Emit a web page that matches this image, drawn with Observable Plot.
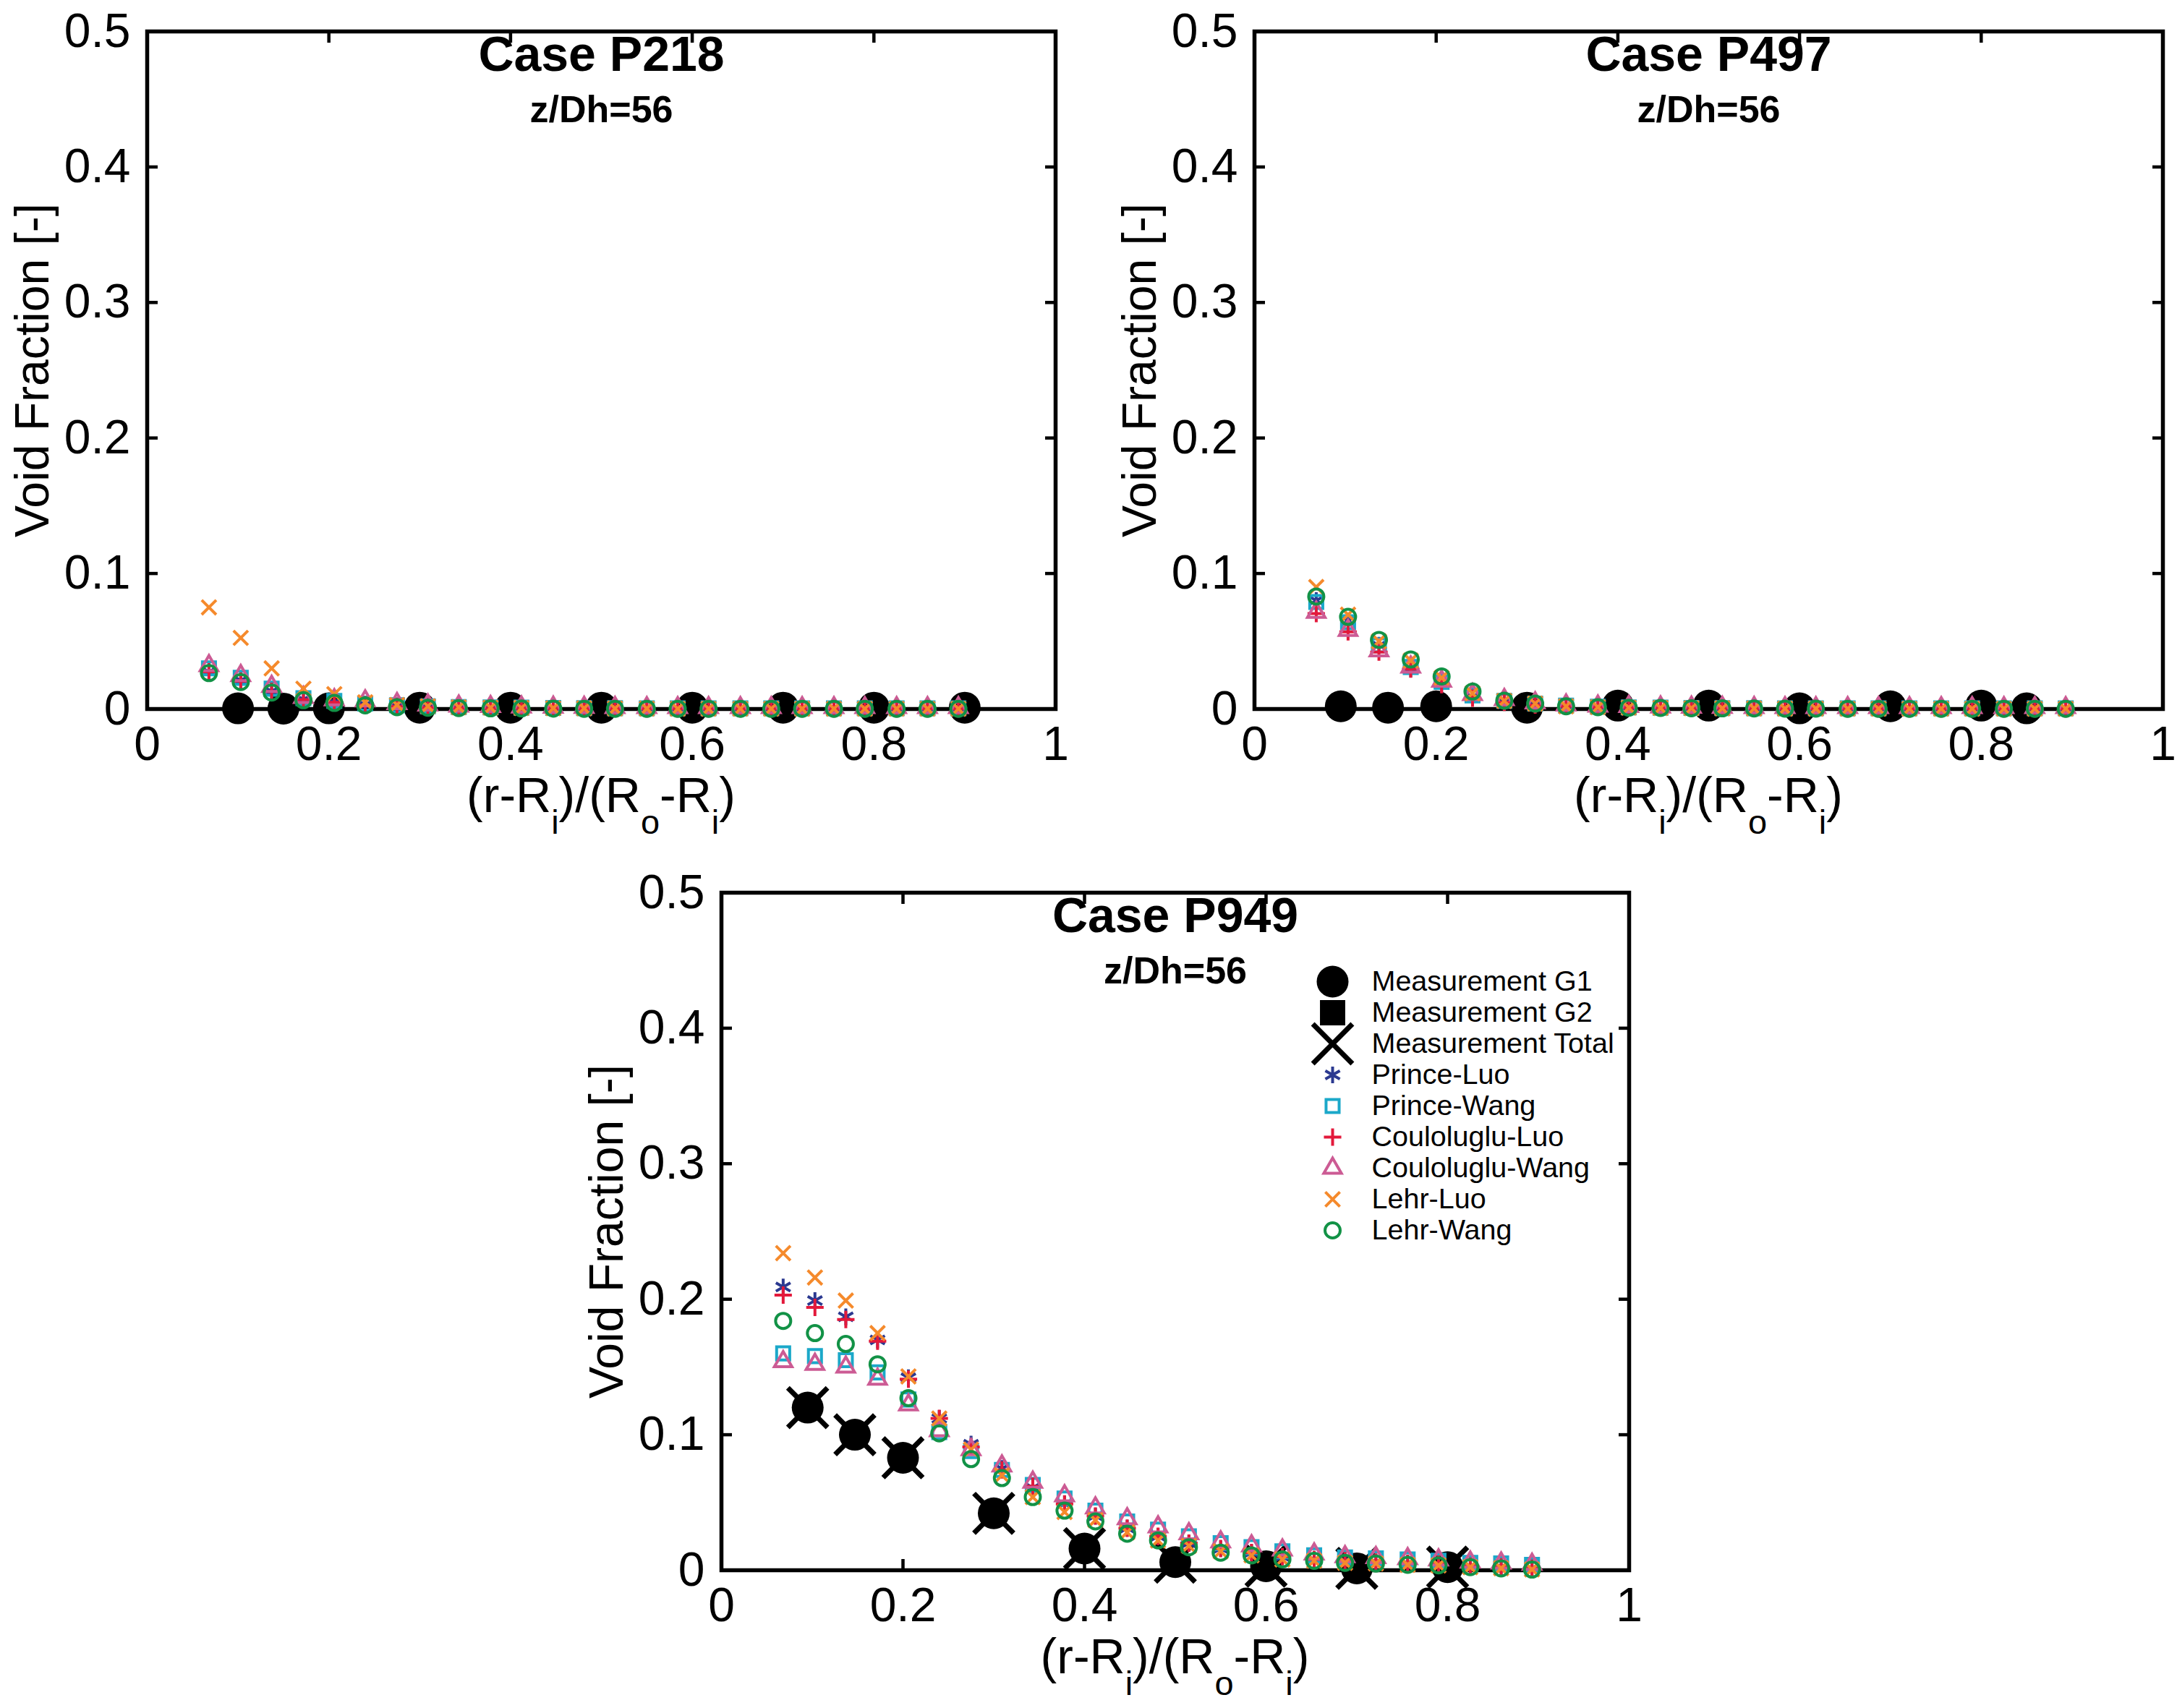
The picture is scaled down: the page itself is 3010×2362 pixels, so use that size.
<!DOCTYPE html>
<html><head><meta charset="utf-8">
<script src="https://cdn.jsdelivr.net/npm/d3@7"></script>
<script src="https://cdn.jsdelivr.net/npm/@observablehq/plot@0.6"></script>
<style>
body{margin:0;background:#fff;}
#fig{position:relative;width:3010px;height:2362px;background:#fff;overflow:hidden;}
#fig > svg{position:absolute;}
</style></head><body><div id="fig"></div>
<script>
// ---------- data ----------
const xTicks = [0, 0.2, 0.4, 0.6, 0.8, 1];
const yTicks = [0, 0.1, 0.2, 0.3, 0.4, 0.5];
const xModel = [0.068,0.103,0.137,0.172,0.206,0.240,0.275,0.309,0.343,0.378,0.412,0.447,0.481,0.515,0.550,0.584,0.618,0.653,0.687,0.721,0.756,0.790,0.825,0.859,0.893];

// Case P218
const P218_measX = [0.1,0.15,0.2,0.3,0.4,0.5,0.6,0.7,0.8,0.9];
const P218_G1 = [0.0005,0.0003,0.0005,0.001,0.001,0.001,0.001,0.001,0.001,0.001];
const P218_PL = [0.0275,0.021,0.013,0.007,0.005,0.003,0.002,0.0012,0.0008,0.0006,0.0005,0.0004,0.0003,0.0003,0.0002,0.0002,0.0002,0.0002,0.0002,0.0002,0.0002,0.0002,0.0002,0.0002,0.0002];
const P218_PW = [0.030,0.023,0.015,0.008,0.006,0.004,0.0028,0.002,0.0015,0.0012,0.001,0.0008,0.0007,0.0006,0.0005,0.0005,0.0005,0.0005,0.0005,0.0005,0.0005,0.0005,0.0005,0.0005,0.0005];
const P218_CL = [0.0275,0.0205,0.013,0.007,0.005,0.003,0.002,0.0012,0.0008,0.0006,0.0005,0.0004,0.0003,0.0003,0.0002,0.0002,0.0002,0.0002,0.0002,0.0002,0.0002,0.0002,0.0002,0.0002,0.0002];
const P218_CW = [0.032,0.0247,0.0167,0.0086,0.0068,0.006,0.004,0.003,0.0022,0.0018,0.0015,0.0013,0.0012,0.0011,0.001,0.001,0.001,0.001,0.001,0.001,0.001,0.001,0.001,0.001,0.001];
const P218_LL = [0.075,0.0525,0.030,0.015,0.011,0.005,0.003,0.002,0.0013,0.001,0.0008,0.0006,0.0005,0.0004,0.0003,0.0002,0.0002,0.0002,0.0002,0.0002,0.0002,0.0002,0.0002,0.0002,0.0002];
const P218_LW = [0.0265,0.0199,0.0122,0.0065,0.0045,0.0027,0.0014,0.001,0.0007,0.0005,0.0004,0.0003,0.0002,0.0002,0.0002,0.0002,0.0002,0.0002,0.0002,0.0002,0.0002,0.0002,0.0002,0.0002,0.0002];

// Case P497
const P497_measX = [0.095,0.147,0.2,0.3,0.4,0.5,0.6,0.7,0.8,0.85];
const P497_G1 = [0.002,0.001,0.002,0.001,0.0025,0.0025,0.0005,0.002,0.0025,0.0005];
const P497_PL = [0.080,0.065,0.047,0.0295,0.018,0.009,0.0055,0.0035,0.002,0.0014,0.001,0.0008,0.0006,0.0005,0.0004,0.0003,0.0003,0.0002,0.0002,0.0002,0.0002,0.0002,0.0002,0.0002,0.0002];
const P497_PW = [0.079,0.064,0.047,0.031,0.020,0.010,0.006,0.004,0.0025,0.0017,0.0012,0.001,0.0008,0.0007,0.0006,0.0005,0.0005,0.0005,0.0005,0.0005,0.0005,0.0005,0.0005,0.0005,0.0005];
const P497_CL = [0.0705,0.057,0.042,0.0295,0.018,0.008,0.005,0.003,0.002,0.0013,0.001,0.0008,0.0006,0.0005,0.0004,0.0003,0.0003,0.0002,0.0002,0.0002,0.0002,0.0002,0.0002,0.0002,0.0002];
const P497_CW = [0.0714,0.058,0.043,0.031,0.0205,0.0107,0.007,0.0045,0.003,0.0022,0.0018,0.0015,0.0013,0.0012,0.0011,0.001,0.001,0.001,0.001,0.001,0.001,0.001,0.001,0.001,0.001];
const P497_LL = [0.090,0.0696,0.050,0.0357,0.023,0.0116,0.006,0.004,0.002,0.0014,0.001,0.0008,0.0006,0.0005,0.0004,0.0003,0.0003,0.0002,0.0002,0.0002,0.0002,0.0002,0.0002,0.0002,0.0002];
const P497_LW = [0.083,0.068,0.051,0.0366,0.024,0.0129,0.0062,0.004,0.002,0.0014,0.001,0.0008,0.0006,0.0005,0.0004,0.0003,0.0003,0.0002,0.0002,0.0002,0.0002,0.0002,0.0002,0.0002,0.0002];

// Case P949
const P949_measX = [0.095,0.147,0.2,0.3,0.4,0.5,0.6,0.7,0.8];
const P949_G1 = [0.120,0.100,0.083,0.042,0.016,0.006,0.003,0.0014,0.0023];
const P949_Total = [0.120,0.100,0.083,0.042,0.016,0.006,0.003,0.0014,0.0023];
const P949_PL = [0.209,0.199,0.187,0.170,0.142,0.112,0.093,0.075,0.061,0.049,0.040,0.031,0.025,0.020,0.016,0.013,0.010,0.008,0.007,0.006,0.005,0.0045,0.003,0.0025,0.0015];
const P949_PW = [0.160,0.158,0.155,0.146,0.126,0.102,0.088,0.074,0.063,0.053,0.044,0.036,0.030,0.025,0.020,0.017,0.014,0.011,0.0095,0.0088,0.008,0.007,0.0055,0.005,0.004];
const P949_CL = [0.203,0.194,0.185,0.169,0.141,0.112,0.091,0.074,0.062,0.049,0.040,0.031,0.025,0.020,0.016,0.013,0.010,0.008,0.007,0.006,0.005,0.0045,0.003,0.0025,0.0015];
const P949_CW = [0.154,0.152,0.150,0.141,0.122,0.103,0.089,0.077,0.065,0.055,0.046,0.038,0.032,0.027,0.021,0.018,0.015,0.012,0.010,0.0094,0.0085,0.0076,0.006,0.0053,0.0044];
const P949_LL = [0.234,0.216,0.199,0.175,0.143,0.112,0.089,0.070,0.054,0.043,0.037,0.028,0.022,0.018,0.014,0.011,0.008,0.007,0.0055,0.005,0.004,0.0036,0.0023,0.0015,0.0006];
const P949_LW = [0.184,0.175,0.167,0.152,0.127,0.101,0.082,0.068,0.054,0.044,0.036,0.027,0.022,0.017,0.013,0.011,0.008,0.007,0.0055,0.005,0.004,0.0036,0.0023,0.0014,0.0005];

const legendNames = ["Measurement G1","Measurement G2","Measurement Total","Prince-Luo","Prince-Wang","Couloluglu-Luo","Couloluglu-Wang","Lehr-Luo","Lehr-Wang"];

// ---------- styles ----------
const FONT = "'Liberation Sans', Arial, Helvetica, sans-serif";
const modelStyles = [
  {name:"Prince-Luo",      symbol:"asterisk", r:11,   color:"#2b3990"},
  {name:"Prince-Wang",     symbol:"square",   r:10.2, color:"#1ba8c9"},
  {name:"Couloluglu-Luo",  symbol:"plus",     r:7.8,  color:"#e3193b"},
  {name:"Couloluglu-Wang", symbol:"triangle", r:9,    color:"#cc5b94"},
  {name:"Lehr-Luo",        symbol:"times",    r:9.2,  color:"#f58a2c"},
  {name:"Lehr-Wang",       symbol:"circle",   r:10.5, color:"#129246"}
];
const measStyles = [
  {name:"Measurement G1", symbol:"circle", r:22, fill:"black", stroke:"none", sw:0},
  {name:"Measurement G2", symbol:"square", r:19.7, fill:"black", stroke:"none", sw:0},
  {name:"Measurement Total", symbol:"times", r:25, fill:"none", stroke:"black", sw:7}
];
const fmt = d => String(d);

function pts(xs, ys) { return xs.map((x, i) => ({x, y: ys[i]})); }

function makePanel(cfg) {
  const marks = [
    Plot.frame({stroke: "black", strokeWidth: 5.5}),
    Plot.axisX({anchor: "bottom", ticks: xTicks, tickSize: -15, tickPadding: 39, tickFormat: fmt, strokeWidth: 4.5, label: null}),
    Plot.axisX({anchor: "top", ticks: xTicks, tickSize: -15, tickFormat: () => "", strokeWidth: 4.5, label: null}),
    Plot.axisY({anchor: "left", ticks: yTicks, tickSize: -15, tickPadding: 38, tickFormat: fmt, strokeWidth: 4.5, label: null}),
    Plot.axisY({anchor: "right", ticks: yTicks, tickSize: -15, tickFormat: () => "", strokeWidth: 4.5, label: null}),
    Plot.dot(pts(cfg.measX, cfg.G1), {x: "x", y: "y", r: 22, fill: "black", stroke: "none"})
  ];
  if (cfg.Total) marks.push(Plot.dot(pts(cfg.measX, cfg.Total), {x: "x", y: "y", symbol: "times", r: 25, stroke: "black", strokeWidth: 7}));
  modelStyles.forEach((s, k) => {
    marks.push(Plot.dot(pts(xModel, cfg.models[k]), {x: "x", y: "y", symbol: s.symbol, r: s.r, stroke: s.color, fill: "none", strokeWidth: 4}));
  });
  marks.push(Plot.text([cfg.title], {text: d => d, frameAnchor: "top", dy: 54, lineAnchor: "bottom", fontWeight: "bold", fontSize: 68}));
  marks.push(Plot.text(["z/Dh=56"], {text: d => d, frameAnchor: "top", dy: 125, lineAnchor: "bottom", fontWeight: "bold", fontSize: 52}));
  marks.push(Plot.text(["Void Fraction [-]"], {text: d => d, frameAnchor: "left", textAnchor: "middle", dx: -158, rotate: -90, lineAnchor: "middle", fontSize: 66}));

  const svg = Plot.plot({
    width: cfg.w, height: cfg.h,
    marginLeft: cfg.ml, marginRight: cfg.mr, marginTop: cfg.mt, marginBottom: cfg.mb,
    x: {domain: [0, 1], axis: null},
    y: {domain: [0, 0.5], axis: null},
    style: {fontFamily: FONT, fontSize: "66px", color: "black", background: "transparent", overflow: "visible"},
    marks
  });
  svg.style.left = cfg.left + "px";
  svg.style.top = cfg.top + "px";
  // x-axis label with subscripts
  const sx = svg.scale("x"), sy = svg.scale("y");
  const cx = (sx.apply(0) + sx.apply(1)) / 2, by = sy.apply(0) + 143;
  const t = d3.select(svg).append("text").attr("x", cx).attr("y", by)
    .attr("text-anchor", "middle").attr("font-size", 68).attr("fill", "black").attr("font-family", FONT);
  const parts = [["(r-R", 0], ["i", 1], [")/(R", 0], ["o", 1], ["-R", 0], ["i", 1], [")", 0]];
  let prev = 0;
  parts.forEach(([s, sub]) => {
    const sp = t.append("tspan").text(s);
    if (sub !== prev) sp.attr("dy", sub ? 30 : -30);
    if (sub) sp.attr("font-size", 47);
    prev = sub;
  });
  document.getElementById("fig").appendChild(svg);
}

makePanel({title: "Case P218", measX: P218_measX, G1: P218_G1, models: [P218_PL, P218_PW, P218_CL, P218_CW, P218_LL, P218_LW],
  left: 0, top: 0, w: 1540, h: 1180, ml: 203, mr: 81, mt: 43, mb: 200});
makePanel({title: "Case P497", measX: P497_measX, G1: P497_G1, models: [P497_PL, P497_PW, P497_CL, P497_CW, P497_LL, P497_LW],
  left: 1540, top: 0, w: 1470, h: 1180, ml: 194, mr: 20, mt: 43, mb: 200});
makePanel({title: "Case P949", measX: P949_measX, G1: P949_G1, Total: P949_Total, models: [P949_PL, P949_PW, P949_CL, P949_CW, P949_LL, P949_LW],
  left: 780, top: 1180, w: 1560, h: 1182, ml: 217, mr: 88, mt: 54, mb: 191});

// ---------- legend ----------
(function () {
  const allStyles = [...measStyles, ...modelStyles.map(s => ({name: s.name, symbol: s.symbol, r: s.r, fill: "none", stroke: s.color, sw: 4}))];
  const marks = allStyles.map(s => Plot.dot([s.name], {y: d => d, frameAnchor: "left", symbol: s.symbol, r: s.r, fill: s.fill, stroke: s.stroke, strokeWidth: s.sw}));
  marks.push(Plot.text(legendNames, {y: d => d, text: d => d, frameAnchor: "left", dx: 54, textAnchor: "start", lineAnchor: "middle", fontSize: 39.5}));
  const svg = Plot.plot({
    width: 460, height: 408, marginLeft: 30, marginRight: 0, marginTop: 30, marginBottom: 30,
    y: {type: "point", domain: legendNames, padding: 0, axis: null},
    style: {fontFamily: FONT, color: "black", background: "transparent", overflow: "visible"},
    marks
  });
  svg.style.left = "1812px";
  svg.style.top = "1325px";
  document.getElementById("fig").appendChild(svg);
})();
</script></body></html>
